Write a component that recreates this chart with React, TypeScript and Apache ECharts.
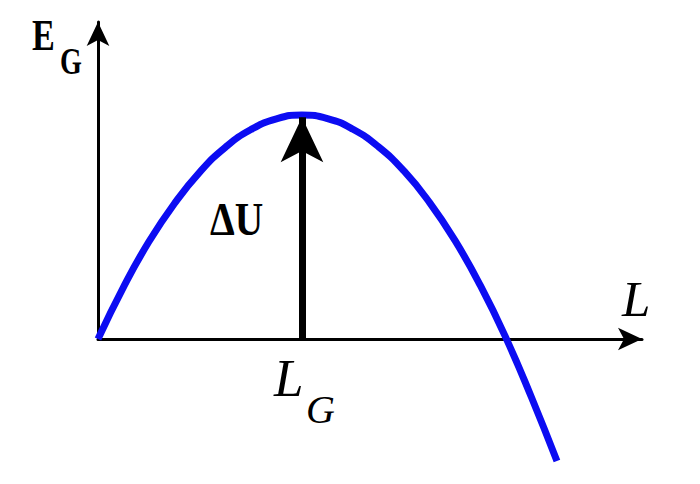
import * as echarts from 'echarts';
import { useEffect, useRef } from 'react';

// curve points (x in units of L_G, y in units of the peak height)
const curveX = [0, 0.125, 0.25, 0.375, 0.5, 0.625, 0.75, 0.875, 1, 1.125, 1.25, 1.375, 1.5, 1.625, 1.75, 1.875, 2, 2.125, 2.25];
const curveY = [0, 0.232, 0.435, 0.605, 0.746, 0.856, 0.935, 0.983, 1, 0.984, 0.936, 0.858, 0.75, 0.61, 0.44, 0.238, 0.005, -0.26, -0.545];

const peakX = 1;
const peakY = 0.99;
const xMax = 2.667;
const yMax = 1.415;

const serif = '"Liberation Serif", "DejaVu Serif", serif';

export default function App() {
  const chartRef = useRef<HTMLDivElement>(null);

  useEffect(() => {
    if (!chartRef.current) return;
    const chart = echarts.init(chartRef.current, undefined, { renderer: 'svg' });

    const axisStyle = {
      show: true,
      onZero: false,
      lineStyle: { color: '#000', width: 3 },
      symbol: ['none', 'arrow'],
      symbolSize: [17, 24],
    };

    const option = {
      animation: false,
      backgroundColor: '#ffffff',
      grid: { left: 98, right: 58, top: 22, bottom: 145 },
      xAxis: {
        type: 'value',
        min: 0,
        max: xMax,
        axisLine: axisStyle,
        axisTick: { show: false },
        axisLabel: { show: false },
        splitLine: { show: false },
      },
      yAxis: {
        type: 'value',
        min: 0,
        max: yMax,
        axisLine: axisStyle,
        axisTick: { show: false },
        axisLabel: { show: false },
        splitLine: { show: false },
      },
      series: [
        {
          type: 'line',
          data: curveX.map((x, i) => [x, curveY[i]]),
          smooth: 0.5,
          clip: false,
          showSymbol: false,
          lineStyle: { color: '#0c0cf2', width: 7 },
          z: 3,
          markLine: {
            silent: true,
            symbol: ['none', 'arrow'],
            symbolSize: [32, 45],
            label: { show: false },
            lineStyle: { color: '#000', width: 7, type: 'solid' },
            data: [[{ coord: [peakX, 0] }, { coord: [peakX, peakY] }]],
          },
        },
      ],
      graphic: [
        { type: 'text', x: 32, y: 35, scaleX: 0.76, style: { text: 'E', font: `bold 45px ${serif}`, fill: '#000', verticalAlign: 'middle' } },
        { type: 'text', x: 60, y: 61, scaleX: 0.74, style: { text: 'G', font: `bold 38px ${serif}`, fill: '#000', verticalAlign: 'middle' } },
        { type: 'text', x: 210, y: 219, scaleX: 0.84, style: { text: 'ΔU', font: `bold 47px ${serif}`, fill: '#000', verticalAlign: 'middle' } },
        { type: 'text', x: 622, y: 299, style: { text: 'L', font: `italic 51px ${serif}`, fill: '#000', verticalAlign: 'middle' } },
        { type: 'text', x: 274, y: 378, style: { text: 'L', font: `italic 53px ${serif}`, fill: '#000', verticalAlign: 'middle' } },
        { type: 'text', x: 306, y: 409, style: { text: 'G', font: `italic 40px ${serif}`, fill: '#000', verticalAlign: 'middle' } },
      ],
    };

    chart.setOption(option);
    return () => chart.dispose();
  }, []);

  return (
    <div
      ref={chartRef}
      style={{ position: 'absolute', left: 0, top: 0, width: 700, height: 484 }}
    />
  );
}
